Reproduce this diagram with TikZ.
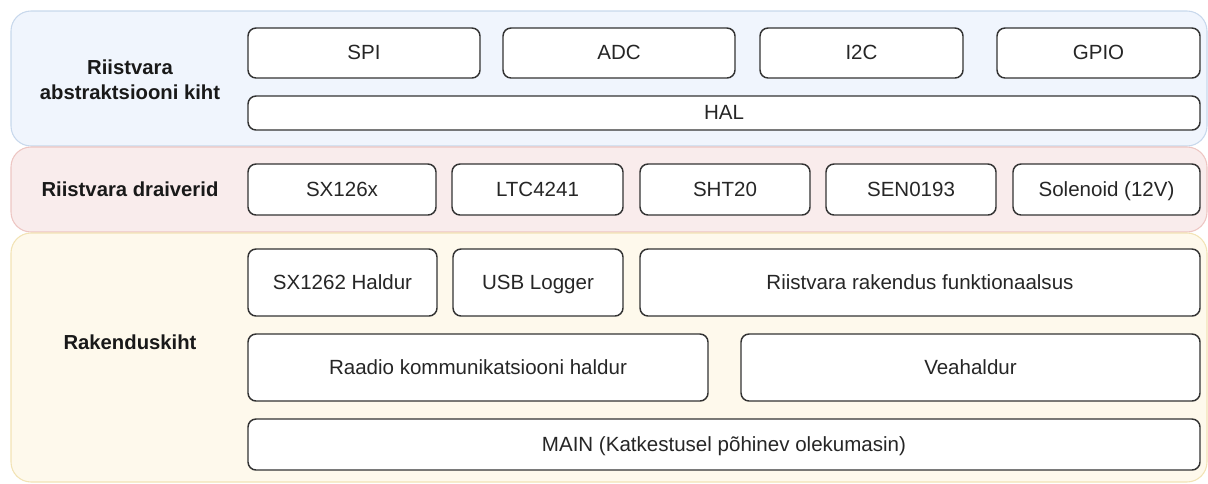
\documentclass[tikz,border=0pt]{standalone}
\usepackage{fontspec}
\setmainfont{Liberation Sans}
\definecolor{halfill}{HTML}{F0F5FD}
\definecolor{haldraw}{HTML}{C8D8EC}
\definecolor{drvfill}{HTML}{F9ECEC}
\definecolor{drvdraw}{HTML}{EDC6C3}
\definecolor{appfill}{HTML}{FEF9EC}
\definecolor{appdraw}{HTML}{F2E3B5}
\definecolor{boxline}{HTML}{333333}
\tikzset{
  pxsize/.style 2 args={minimum width=#1*0.75pt, minimum height=#2*0.75pt},
  layer/.style={draw, line width=0.8pt, rounded corners=15pt, inner sep=0pt},
  layertext/.style={font=\fontsize{15.2}{19}\selectfont\bfseries, align=center, text=black!90},
  part/.style={draw=boxline, line width=1.1pt, fill=white, rounded corners=6pt,
    inner sep=0pt, text height=12.5pt, text depth=2.3pt,
    font=\fontsize{15.4}{18}\selectfont, text=black!85}
}

\begin{document}
\begin{tikzpicture}[x=0.75pt,y=-0.75pt]
\useasboundingbox (0,0) rectangle (1208,483);
% layers
  \node[layer, draw=haldraw, fill=halfill, pxsize={1196}{135}] (hallayer) at (609,78.5) {};
  \node[layer, draw=drvdraw, fill=drvfill, pxsize={1196}{85}] (drvlayer) at (609,189.5) {};
  \node[layer, draw=appdraw, fill=appfill, pxsize={1196}{249}] (applayer) at (609,357.5) {};
  \node[layertext] (hallabel) at (130,80) {Riistvara\\abstraktsiooni kiht};
  \node[layertext] (drvlabel) at (130,189.5) {Riistvara draiverid};
  \node[layertext] (applabel) at (130,342) {Rakenduskiht};

% hardware abstraction
  \node[part, pxsize={232}{50}] (spi) at (364,53) {SPI};
  \node[part, pxsize={232}{50}] (adc) at (619,53) {ADC};
  \node[part, pxsize={203}{50}] (itwoc) at (861.5,53) {I2C};
  \node[part, pxsize={203}{50}] (gpio) at (1098.5,53) {GPIO};
  \node[part, pxsize={952}{34}] (hal) at (724,113) {HAL};

% drivers
  \node[part, pxsize={188}{51}] (sx126x) at (342,189.5) {SX126x};
  \node[part, pxsize={171}{51}] (ltc) at (537.5,189.5) {LTC4241};
  \node[part, pxsize={170}{51}] (sht) at (725,189.5) {SHT20};
  \node[part, pxsize={170}{51}] (sen) at (911,189.5) {SEN0193};
  \node[part, pxsize={187}{51}] (solenoid) at (1106.5,189.5) {Solenoid (12V)};

% application
  \node[part, pxsize={189}{67}] (sxhaldur) at (342.5,282.5) {SX1262 Haldur};
  \node[part, pxsize={170}{67}] (usblog) at (538,282.5) {USB Logger};
  \node[part, pxsize={560}{67}] (hwapp) at (920,282.5) {Riistvara rakendus funktionaalsus};
  \node[part, pxsize={460}{67}] (radio) at (478,367.5) {Raadio kommunikatsiooni haldur};
  \node[part, pxsize={459}{67}] (errors) at (970.5,367.5) {Veahaldur};
  \node[part, pxsize={952}{51}] (main) at (724,444.5) {MAIN (Katkestusel põhinev olekumasin)};
\end{tikzpicture}
\end{document}
